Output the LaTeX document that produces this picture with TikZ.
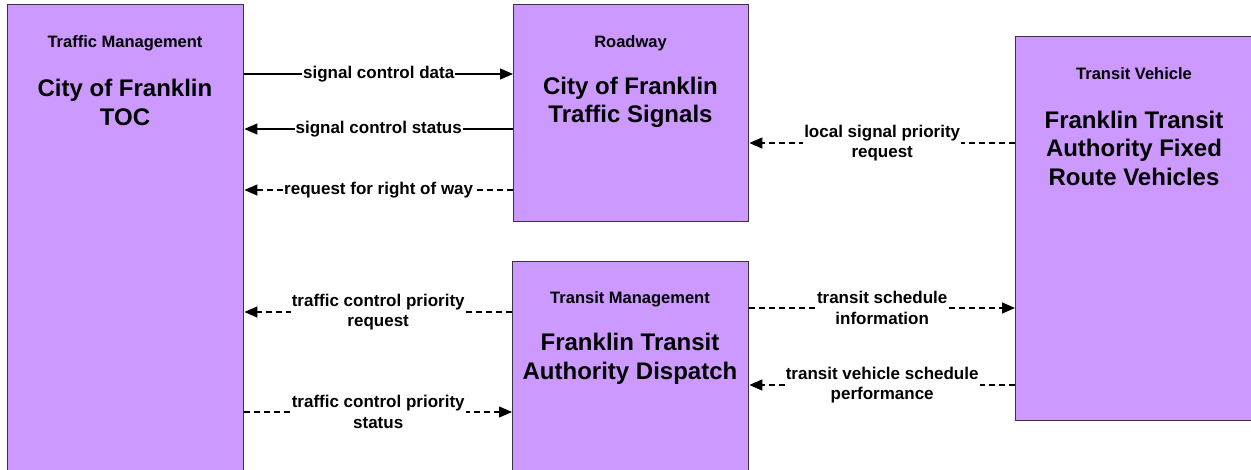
\documentclass[tikz,border=0pt]{standalone}
\usepackage{fontspec}
\setmainfont{Liberation Sans}
\usetikzlibrary{arrows.meta}
\definecolor{boxfill}{RGB}{204,153,255}
\definecolor{boxline}{RGB}{60,50,70}
\begin{document}
\begin{tikzpicture}[x=1pt,y=-1pt,
  box/.style={draw=boxline, line width=1.4pt, fill=boxfill, anchor=north west, inner sep=0pt},
  cat/.style={font=\fontsize{16.5}{20}\selectfont\bfseries, align=center},
  big/.style={font=\fontsize{24}{28.5}\selectfont\bfseries, align=center},
  flow/.style={line width=1.3pt, -{Triangle[length=13pt,width=11pt]}},
  dflow/.style={flow, dash pattern=on 6pt off 4pt},
  lab/.style={font=\fontsize{17}{20.5}\selectfont\bfseries, align=center, fill=white, inner xsep=1pt, inner ysep=1.5pt, pos=0.5}
]
\useasboundingbox (0,0) rectangle (1251,469);
\clip (0,0) rectangle (1251,469);

% boxes
\node[box, minimum width=236pt, minimum height=480pt] (toc) at (7,4) {};
\node[box, minimum width=235pt, minimum height=217pt] (sig) at (513,4) {};
\node[box, minimum width=236pt, minimum height=220pt] (disp) at (512,261) {};
\node[box, minimum width=238pt, minimum height=384pt] (veh) at (1015,36) {};

% box texts
\node[cat] (toccat) at (125,43.5) {Traffic Management};
\node[big] (tocname) at (125,102.5) {City of Franklin\\TOC};
\node[cat] (sigcat) at (630.5,43.5) {Roadway};
\node[big] (signame) at (630.5,102.5) {City of Franklin\\Traffic Signals};
\node[cat] (vehcat) at (1134,74) {Transit Vehicle};
\node[big] (vehname) at (1134,148) {Franklin Transit\\Authority Fixed\\Route Vehicles};
\node[cat] (dispcat) at (630,299) {Transit Management};
\node[big] (dispname) at (630,359) {Franklin Transit\\Authority Dispatch};

% flows
\draw[flow] (toc.east |- 0,74) -- node[lab]{signal control data} (sig.west |- 0,74);
\draw[flow] (sig.west |- 0,129) -- node[lab]{signal control status} (toc.east |- 0,129);
\draw[dflow] (sig.west |- 0,190) -- node[lab]{request for right of way} (toc.east |- 0,190);
\draw[dflow] (veh.west |- 0,143) -- node[lab]{local signal priority\\request} (sig.east |- 0,143);
\draw[dflow] (disp.west |- 0,312) -- node[lab]{traffic control priority\\request} (toc.east |- 0,312);
\draw[dflow] (toc.east |- 0,412) -- node[lab]{traffic control priority\\status} (disp.west |- 0,412);
\draw[dflow] (disp.east |- 0,308) -- node[lab]{transit schedule\\information} (veh.west |- 0,308);
\draw[dflow] (veh.west |- 0,385) -- node[lab]{transit vehicle schedule\\performance} (disp.east |- 0,385);
\end{tikzpicture}
\end{document}
